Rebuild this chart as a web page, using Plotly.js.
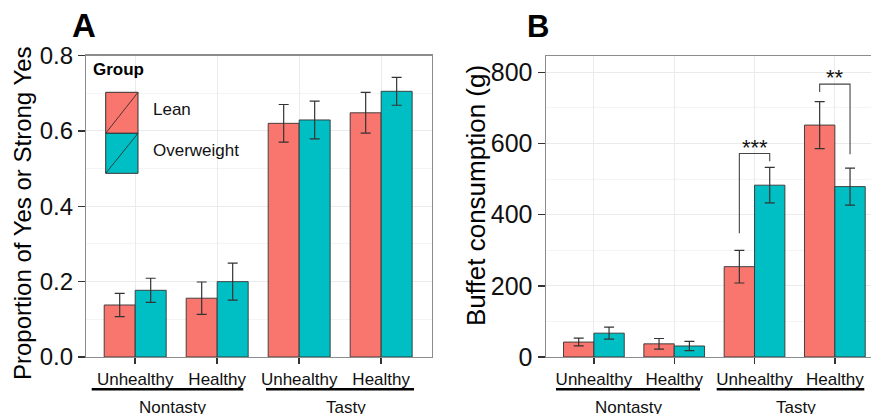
<!DOCTYPE html>
<html>
<head>
<meta charset="utf-8">
<script src="https://cdn.plot.ly/plotly-3.0.1.min.js"></script>
<style>
  html, body { margin: 0; padding: 0; background: #fff; }
  #chart { width: 871px; height: 414px; }
</style>
</head>
<body>
<div id="chart"></div>
<script>
// ---------------- data ----------------
const categories = ['Unhealthy', 'Healthy', 'Unhealthy', 'Healthy'];
const groupNames = ['Nontasty', 'Tasty'];
const seriesNames = ['Lean', 'Overweight'];

// Panel A: proportion of Yes or Strong Yes
const propLean      = [0.138, 0.156, 0.620, 0.648];
const propLeanErr   = [0.031, 0.043, 0.050, 0.054];
const propOver      = [0.177, 0.200, 0.629, 0.705];
const propOverErr   = [0.032, 0.049, 0.050, 0.037];

// Panel B: buffet consumption (g)
const buffetLean    = [42, 37, 254, 652];
const buffetLeanErr = [11, 15, 46, 66];
const buffetOver    = [67, 31, 483, 479];
const buffetOverErr = [17, 13, 50, 52];

// significance brackets in panel B (category index, top, left foot, right foot, label)
const sigIndex  = [2, 3];
const sigTop    = [572, 767];
const sigLeft   = [348, 745];
const sigRight  = [550, 570];
const sigLabels = ['***', '**'];

// ---------------- styling ----------------
const W = 871, H = 414;
const FONT = 'Liberation Sans, Arial, Helvetica, sans-serif';
const colLean = '#F8766D', colOver = '#00BFC4';
const px = x => x / W;
const py = y => 1 - y / H;
const xpos = [0, 1, 2, 3];
const half = 0.189; // half of group (bar centre offset)

function barTrace(y, err, color, name, xa, ya) {
  return {
    type: 'bar', x: xpos, y: y, name: name, xaxis: xa, yaxis: ya,
    marker: { color: color, line: { color: '#333333', width: 0.9 } },
    error_y: { type: 'data', array: err, visible: true, color: '#333333', thickness: 1.2, width: 5 },
    showlegend: false, hoverinfo: 'skip'
  };
}

const data = [
  barTrace(propLean, propLeanErr, colLean, seriesNames[0], 'x', 'y'),
  barTrace(propOver, propOverErr, colOver, seriesNames[1], 'x', 'y'),
  barTrace(buffetLean, buffetLeanErr, colLean, seriesNames[0], 'x2', 'y2'),
  barTrace(buffetOver, buffetOverErr, colOver, seriesNames[1], 'x2', 'y2')
];

const commonX = {
  tickmode: 'array', tickvals: xpos, ticktext: categories,
  ticks: 'outside', ticklen: 6, tickwidth: 1.4, tickcolor: '#333333',
  showgrid: true, gridcolor: '#ebebeb', gridwidth: 1,
  showline: true, linecolor: '#8c8c8c', linewidth: 1.2,
  zeroline: false, fixedrange: true,
  tickfont: { family: FONT, size: 17, color: '#111' }
};
const commonY = {
  ticks: 'outside', ticklen: 7, tickwidth: 1.4, tickcolor: '#333333',
  showgrid: true, gridcolor: '#ebebeb', gridwidth: 1,
  showline: true, linecolor: '#8c8c8c', linewidth: 1.2,
  zeroline: false, fixedrange: true
};

const shapes = [];
const annotations = [];

// panel letters
annotations.push({ xref: 'paper', yref: 'paper', x: px(70), y: py(25), xanchor: 'left', yanchor: 'middle',
  text: '<b>A</b>', showarrow: false, font: { family: FONT, size: 33, color: '#000' } });
annotations.push({ xref: 'paper', yref: 'paper', x: px(525), y: py(26), xanchor: 'left', yanchor: 'middle',
  text: '<b>B</b>', showarrow: false, font: { family: FONT, size: 31, color: '#000' } });

// y-axis titles
annotations.push({ xref: 'paper', yref: 'paper', x: px(23), y: py(213), xanchor: 'center', yanchor: 'middle',
  text: 'Proportion of Yes or Strong Yes', textangle: -90, showarrow: false,
  font: { family: FONT, size: 24, color: '#000' } });
annotations.push({ xref: 'paper', yref: 'paper', x: px(476), y: py(196), xanchor: 'center', yanchor: 'middle',
  text: 'Buffet consumption (g)', textangle: -90, showarrow: false,
  font: { family: FONT, size: 26, color: '#000' } });

// group underlines and labels
const underA = [[91.7, 243.3], [266, 414]];
const underB = [[556, 700], [716.7, 864.3]];
const labA = [172.5, 346];
const labB = [628.5, 796];
[[underA, labA], [underB, labB]].forEach(([und, lab]) => {
  und.forEach((seg, i) => {
    shapes.push({ type: 'line', xref: 'paper', yref: 'paper', x0: px(seg[0]), x1: px(seg[1]),
      y0: py(389.3), y1: py(389.3), line: { color: '#000', width: 2.6 } });
    annotations.push({ xref: 'paper', yref: 'paper', x: px(lab[i]), y: py(407.5), xanchor: 'center', yanchor: 'middle',
      text: groupNames[i], showarrow: false, font: { family: FONT, size: 17, color: '#111' } });
  });
});

// legend (drawn inside panel A)
annotations.push({ xref: 'paper', yref: 'paper', x: px(91), y: py(70), xanchor: 'left', yanchor: 'middle',
  text: '<b>Group</b>', showarrow: false, font: { family: FONT, size: 17, color: '#000' } });
const keyTops = [92.3, 133.3], keyBots = [133.3, 173.3], keyCols = [colLean, colOver], keyLab = [109, 150];
for (let i = 0; i < 2; i++) {
  shapes.push({ type: 'rect', xref: 'paper', yref: 'paper', x0: px(105.7), x1: px(138),
    y0: py(keyBots[i]), y1: py(keyTops[i]), fillcolor: keyCols[i], line: { color: '#333', width: 1 } });
  shapes.push({ type: 'line', xref: 'paper', yref: 'paper', x0: px(105.7), x1: px(138),
    y0: py(keyBots[i]), y1: py(keyTops[i]), line: { color: '#222', width: 0.8 } });
  annotations.push({ xref: 'paper', yref: 'paper', x: px(151), y: py(keyLab[i]), xanchor: 'left', yanchor: 'middle',
    text: seriesNames[i], showarrow: false, font: { family: FONT, size: 17, color: '#111' } });
}

// significance brackets
for (let i = 0; i < sigIndex.length; i++) {
  const xl = sigIndex[i] - half, xr = sigIndex[i] + half;
  shapes.push({ type: 'path', xref: 'x2', yref: 'y2',
    path: `M ${xl},${sigLeft[i]} L ${xl},${sigTop[i]} L ${xr},${sigTop[i]} L ${xr},${sigRight[i]}`,
    line: { color: '#444', width: 1.1 } });
  annotations.push({ xref: 'x2', yref: 'y2', x: sigIndex[i], y: sigTop[i], xanchor: 'center', yanchor: 'bottom',
    yshift: -8, text: sigLabels[i], showarrow: false, font: { family: FONT, size: 22, color: '#111' } });
}

const layout = {
  width: W, height: H,
  margin: { l: 0, r: 0, t: 0, b: 0 },
  paper_bgcolor: '#fff', plot_bgcolor: '#fff',
  barmode: 'group', bargap: 0.244, bargroupgap: 0,
  showlegend: false,
  xaxis: Object.assign({}, commonX, { domain: [px(86), px(432)], range: [-0.6, 3.62], anchor: 'y', mirror: true }),
  yaxis: Object.assign({}, commonY, { domain: [py(357), py(55.5)], range: [0, 0.8], dtick: 0.2, tickformat: '.1f',
    anchor: 'x', mirror: true,
    minor: { dtick: 0.1, showgrid: true, gridcolor: '#f4f4f4', ticks: '' },
    tickfont: { family: FONT, size: 24, color: '#111' } }),
  xaxis2: Object.assign({}, commonX, { domain: [px(545.7), 1], range: [-0.6, 3.45], anchor: 'y2', mirror: true }),
  yaxis2: Object.assign({}, commonY, { domain: [py(357), py(55.7)], range: [0, 847], dtick: 200,
    anchor: 'x2', mirror: false,
    minor: { dtick: 100, showgrid: true, gridcolor: '#f4f4f4', ticks: '' },
    tickfont: { family: FONT, size: 25, color: '#111' } }),
  shapes: shapes,
  annotations: annotations
};

Plotly.newPlot('chart', data, layout, { displayModeBar: false, staticPlot: true });
</script>
</body>
</html>
